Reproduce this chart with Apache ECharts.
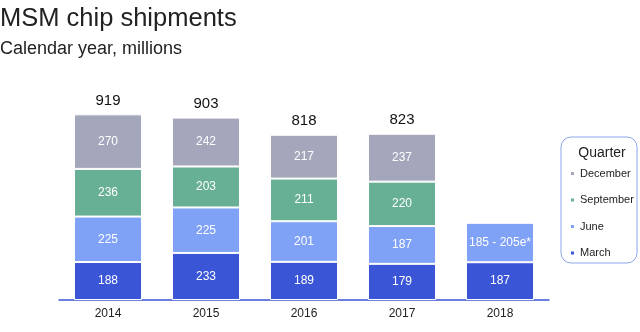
<!DOCTYPE html>
<html><head><meta charset="utf-8">
<script src="https://cdn.jsdelivr.net/npm/echarts@6/dist/echarts.min.js"></script>
<style>html,body{margin:0;padding:0;background:#fff}#c{width:640px;height:332px}</style>
</head><body><div id="c"></div>
<script>
const years = ['2014','2015','2016','2017','2018'];
const march = [188, 233, 189, 179, 187];
const june = [225, 225, 201, 187, 195];
const september = [236, 203, 211, 220, null];
const december = [270, 242, 217, 237, null];
const totals = [919, 903, 818, 823, null];
const juneLabels = ['225','225','201','187','185 - 205e*'];

const colors = {March:'#3a56d6', June:'#7fa1f6', September:'#67b096', December:'#a4a7bc'};
const F = 'Liberation Sans, Arial, Helvetica, sans-serif';

function seg(name, data, fmt){
  return {
    name, type:'bar', stack:'s', data, barWidth:68,
    itemStyle:{color:colors[name], borderColor:'#fff', borderWidth:1},
    label:{show:true, position:'inside', color:'#fff', fontSize:12, fontFamily:F,
      formatter: fmt || (p => p.value)}
  };
}

const chart = echarts.init(document.getElementById('c'));
chart.setOption({
  animation:false,
  title:{text:'MSM chip shipments', subtext:'Calendar year, millions', left:0, top:6, padding:0, itemGap:8,
    textStyle:{fontSize:25.5, fontWeight:'normal', color:'#222', fontFamily:F},
    subtextStyle:{fontSize:18, color:'#222', fontFamily:F}},
  grid:{left:59, right:91, top:98, bottom:32},
  xAxis:{type:'category', data:years,
    axisLine:{lineStyle:{color:'#3a56d6', width:1.5}}, axisTick:{show:false},
    axisLabel:{color:'#222', fontSize:12, fontFamily:F, margin:8}},
  yAxis:{type:'value', min:0, max:1000, show:false, splitLine:{show:false}},
  legend:{orient:'vertical', left:569, top:168, padding:0, itemWidth:5, itemHeight:5, itemGap:15.5, icon:'rect',
    data:['December','September','June','March'],
    textStyle:{fontSize:11, color:'#222', fontFamily:F}},
  graphic:[
    {type:'rect', shape:{x:561, y:137, width:76, height:126, r:10}, style:{fill:'none', stroke:'#8ea3ea', lineWidth:1}},
    {type:'text', x:602, y:153, style:{text:'Quarter', fontSize:14, fill:'#222', fontFamily:F, align:'center', verticalAlign:'middle'}}
  ],
  series:[
    seg('March', march),
    seg('June', june, p => juneLabels[p.dataIndex]),
    seg('September', september),
    seg('December', december),
    {name:'total', type:'bar', stack:'s', data:totals.map(t => t==null?null:0), barWidth:68,
      itemStyle:{color:'transparent'},
      label:{show:true, position:'top', distance:6, color:'#111', fontSize:15, fontFamily:F,
        formatter:p => totals[p.dataIndex]==null ? '' : totals[p.dataIndex]}}
  ]
});
</script></body></html>
